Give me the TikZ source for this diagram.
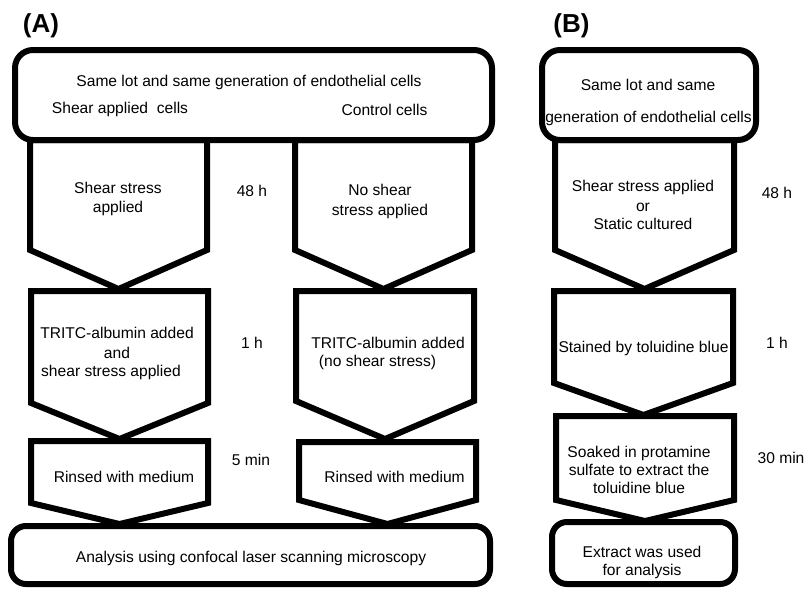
\documentclass[tikz,border=0pt]{standalone}
\usepackage{fontspec}
\setmainfont{Liberation Sans}
\newcommand\flowpent[5]{% xl, xr, ytop, yshoulder, ytip
  \draw[arr] (#1,#3) -- (#1,#4) -- ({(#1+#2)/2},#5) -- (#2,#4) -- (#2,#3) -- cycle;}
\begin{document}
\begin{tikzpicture}[x=1pt,y=-1pt,
  box/.style={line width=6pt, draw=black, fill=white, rounded corners=18pt},
  sbox/.style={line width=6pt, draw=black, fill=white, rounded corners=15pt},
  arr/.style={line width=6pt, draw=black, fill=white, line join=miter},
  t/.style={inner sep=0pt, anchor=base, font=\fontsize{15.6}{18}\selectfont},
  lbl/.style={inner sep=0pt, anchor=base, font=\fontsize{26}{30}\selectfont\bfseries}]
\useasboundingbox[fill=white] (0,0) rectangle (807,589);

% ---------- Panel A shapes ----------
\flowpent{30}{207}{140}{250}{289}
\flowpent{295}{472}{140}{250}{289}
\flowpent{31}{208}{291}{403}{439}
\flowpent{296}{474}{291}{401}{439}
\flowpent{31}{208}{441}{503}{524}
\flowpent{299}{476}{442}{500}{524}
\draw[box] (15,50) rectangle (492,140);
\draw[sbox] (11,526) rectangle (490,584);

% ---------- Panel B shapes ----------
\flowpent{555}{734}{140}{250}{289}
\flowpent{554}{733}{291}{383}{415}
\flowpent{556}{734}{416}{500}{521}
\draw[box] (542,50) rectangle (756,140);
\draw[sbox] (552,522) rectangle (735,584);

% ---------- Labels ----------
\node[lbl] (labA) at (41,32) {(A)};
\node[lbl] (labB) at (571.5,32) {(B)};

% ---------- Panel A texts ----------
\node[t] (a1) at (249,86.5) {Same lot and same generation of endothelial cells};
\node[t] (a2) at (120,113.5) {Shear applied\ \ cells};
\node[t] (a3) at (384.5,115.5) {Control cells};
\node[t] (a4) at (118,193.5) {Shear stress};
\node[t] (a5) at (118,212.5) {applied};
\node[t] (a6) at (252,196.5) {48 h};
\node[t] (a7) at (380,195.5) {No shear};
\node[t] (a8) at (380,215.5) {stress applied};
\node[t] (a9) at (117,338.5) {TRITC-albumin added};
\node[t] (a10) at (117,358.5) {and};
\node[t] (a11) at (111,376.5) {shear stress applied};
\node[t] (a12) at (252,348.5) {1 h};
\node[t] (a13) at (388,348.5) {TRITC-albumin added};
\node[t] (a14) at (377.5,366.5) {(no shear stress)};
\node[t] (a15) at (124,482.5) {Rinsed with medium};
\node[t] (a16) at (251,465.5) {5 min};
\node[t] (a17) at (394.5,482.5) {Rinsed with medium};
\node[t] (a18) at (251,562.5) {Analysis using confocal laser scanning microscopy};

% ---------- Panel B texts ----------
\node[t] (b1) at (648,90.5) {Same lot and same};
\node[t] (b2) at (648.5,122.5) {generation of endothelial cells};
\node[t] (b3) at (643,191.5) {Shear stress applied};
\node[t] (b4) at (643,211.5) {or};
\node[t] (b5) at (643,229.5) {Static cultured};
\node[t] (b6) at (777,198.5) {48 h};
\node[t] (b7) at (643.5,352.5) {Stained by toluidine blue};
\node[t] (b8) at (777,348.5) {1 h};
\node[t] (b9) at (639,457.5) {Soaked in protamine};
\node[t] (b10) at (639,475.5) {sulfate to extract the};
\node[t] (b11) at (639,493.5) {toluidine blue};
\node[t] (b12) at (781,463.5) {30 min};
\node[t] (b13) at (642,557.5) {Extract was used};
\node[t] (b14) at (642,575.5) {for analysis};
\end{tikzpicture}
\end{document}
